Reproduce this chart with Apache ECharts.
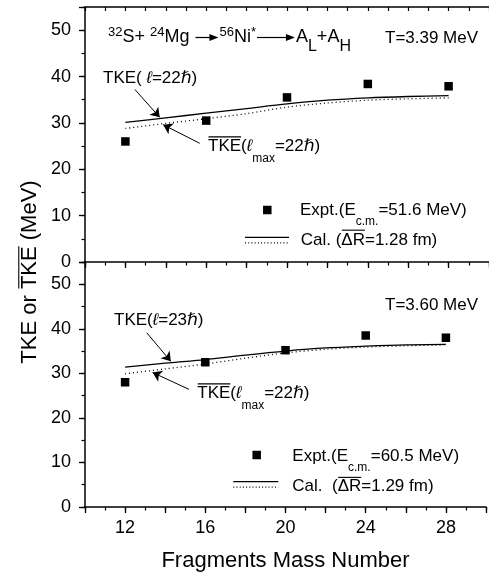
<!DOCTYPE html>
<html>
<head>
<meta charset="utf-8">
<script src="https://cdn.jsdelivr.net/npm/echarts@6/dist/echarts.min.js"></script>
<style>
	html, body { margin: 0; padding: 0; background: #fff; }
	#chart { width: 489px; height: 574px; }
</style>
</head>
<body>
<div id="chart"></div>
<script>
const FONT = '"Liberation Sans", Arial, "DejaVu Sans", sans-serif';

/* Experimental points (both panels share the mass numbers) */
const massNumbers = [12, 16, 20, 24, 28];
const exptTop = [26.0, 30.5, 35.5, 38.4, 37.9];
const exptBottom = [28.0, 32.5, 35.2, 38.5, 38.0];

/* Calculated curves */
const calMass = [12, 14, 16, 18, 20, 22, 24, 26, 28];
const tkeTop = [30.1, 31.1, 32.1, 33.1, 34.1, 34.9, 35.4, 35.7, 35.9];
const tkeBarTop = [28.8, 29.9, 30.9, 32.0, 33.4, 34.3, 34.9, 35.2, 35.4];
const tkeBottom = [31.4, 32.3, 33.1, 34.1, 35.0, 35.7, 36.1, 36.4, 36.5];
const tkeBarBottom = [29.9, 31.0, 32.1, 33.4, 34.6, 35.4, 35.9, 36.2, 36.4];

/* Annotation arrows, [from, to] in data units */
const arrowTkeTop = [[12.47, 37.2], [13.7, 31.2]];
const arrowBarTop = [[15.68, 25.6], [13.87, 29.6]];
const arrowTkeBottom = [[13.08, 39.1], [14.28, 32.7]];
const arrowBarBottom = [[15.19, 26.4], [13.37, 30.2]];

/* Tick labels */
const xLabels = [12, 16, 20, 24, 28];
const yLabels = [0, 10, 20, 30, 40, 50];

const toPairs = (xs, ys) => xs.map((x, i) => [x, ys[i]]);

/*
 * Text runs with sub/superscripts and overlines, laid out piece by piece
 */
const measureCtx = document.createElement('canvas').getContext('2d');
function measure(text, size, italic) {
	measureCtx.font = (italic ? 'italic ' : '') + size + 'px ' + FONT;
	return measureCtx.measureText(text).width;
}

function runWidth(parts) {
	let w = 0;
	parts.forEach(p => { w += p.arrow ? p.arrow : measure(p.t, p.size || 17, p.it); });
	return w;
}

function textRun(x, cy, parts) {
	const out = [];
	let cx = x;
	parts.forEach(function (p) {
		if (p.arrow) {
			out.push({
				type: 'line',
				shape: { x1: cx + 1, y1: cy, x2: cx + p.arrow - 8, y2: cy },
				style: { stroke: '#000', lineWidth: 1.2 },
			});
			out.push({
				type: 'polygon',
				shape: { points: [[cx + p.arrow - 10, cy - 3.5], [cx + p.arrow - 1, cy], [cx + p.arrow - 10, cy + 3.5]] },
				style: { fill: '#000' },
			});
			cx += p.arrow;
			return;
		}
		const size = p.size || 17;
		const w = measure(p.t, size, p.it);
		out.push({
			type: 'text',
			x: cx,
			y: cy + (p.dy || 0),
			style: {
				text: p.t,
				fontSize: size,
				fontFamily: FONT,
				fontStyle: p.it ? 'italic' : 'normal',
				fill: '#000',
				align: 'left',
				verticalAlign: 'middle',
				textAlign: 'left',
				textVerticalAlign: 'middle',
			},
		});
		if (p.over) {
			const oy = cy - (size * 0.36 + (p.overGap || 3.3));
			out.push({
				type: 'line',
				shape: { x1: cx + 0.5, y1: oy, x2: cx + w, y2: oy },
				style: { stroke: '#000', lineWidth: 1.1 },
			});
		}
		cx += w;
	});
	return out;
}

const sup = (t, size) => ({ t: t, size: size || 12, dy: -5 });
const sub = (t, dy, size) => ({ t: t, size: size || 12, dy: dy || 10.5 });
const big = (t) => ({ t: t, size: 18 });

function tkeBarParts(l) {
	return [
		{ t: 'TKE', over: true },
		{ t: '(' },
		{ t: '\u2113', it: true },
		sub('max', 12.5),
		{ t: '=' + l },
		{ t: '\u210F', it: true },
		{ t: ')' },
	];
}

function legendSample(sq, lineX, lineY) {
	return [
		{ type: 'rect', shape: { x: sq[0] - 4.25, y: sq[1] - 4.25, width: 8.5, height: 8.5 }, style: { fill: '#000' } },
		{ type: 'line', shape: { x1: lineX[0], y1: lineY, x2: lineX[1], y2: lineY }, style: { stroke: '#000', lineWidth: 1.2 } },
		{ type: 'line', shape: { x1: lineX[0], y1: lineY + 5.5, x2: lineX[1], y2: lineY + 5.5 }, style: { stroke: '#000', lineWidth: 1.2, lineDash: [1, 2.2] } },
	];
}

const yTitleParts = [{ t: 'TKE or ', size: 22 }, { t: 'TKE', size: 22, over: true }, { t: ' (MeV)', size: 22 }];

const graphics = [].concat(
	/* top panel */
	textRun(108, 37.5, [
		sup('32', 13), big('S+ '), sup('24', 13), big('Mg '), { arrow: 25 },
		sup('56', 13), big('Ni'), sup('*', 13), { arrow: 40 },
		big('A'), sub('L', 9.5, 16), big('+A'), sub('H', 9.5, 16),
	]),
	textRun(385, 38.3, [{ t: 'T=3.39 MeV' }]),
	textRun(103, 78.5, [{ t: 'TKE( ' }, { t: '\u2113', it: true }, { t: '=22' }, { t: '\u210F', it: true }, { t: ')' }]),
	textRun(208, 146.3, tkeBarParts(22)),
	legendSample([267.3, 210], [245, 289], 237.3),
	textRun(300, 210.7, [{ t: 'Expt.(E' }, sub('c.m.', 10.8), { t: '=51.6 MeV)' }]),
	textRun(300.7, 240.5, [{ t: 'Cal. (' }, { t: '\u0394R', over: true, overGap: 4.2 }, { t: '=1.28 fm)' }]),
	/* bottom panel */
	textRun(385, 305.5, [{ t: 'T=3.60 MeV' }]),
	textRun(114, 320, [{ t: 'TKE(' }, { t: '\u2113', it: true }, { t: '=23' }, { t: '\u210F', it: true }, { t: ')' }]),
	textRun(197.3, 393.3, tkeBarParts(22)),
	legendSample([256.7, 455], [233.3, 278.3], 481.7),
	textRun(292.3, 456.7, [{ t: 'Expt.(E' }, sub('c.m.', 10.8), { t: '=60.5 MeV)' }]),
	textRun(292.3, 486, [{ t: 'Cal.  (' }, { t: '\u0394R', over: true, overGap: 2.5 }, { t: '=1.29 fm)' }]),
	/* y axis title, rotated */
	[{
		type: 'group',
		x: 30,
		y: 272,
		rotation: Math.PI / 2,
		children: textRun(-runWidth(yTitleParts) / 2, 0, yTitleParts),
	}]
);

/* Axes */
const blackLine = { color: '#000', width: 1.5 };

function xMajor(gridIndex, showLabels) {
	return {
		type: 'value', gridIndex: gridIndex, position: 'bottom',
		min: 10, max: 30, interval: 2,
		name: showLabels ? 'Fragments Mass Number' : '',
		nameLocation: 'middle',
		nameGap: 43,
		nameTextStyle: { fontSize: 22, fontFamily: FONT, color: '#000' },
		axisLine: { show: true, onZero: false, lineStyle: blackLine },
		axisTick: { show: true, inside: false, length: 6, lineStyle: { color: '#000', width: 1.3 } },
		axisLabel: {
			show: showLabels, margin: 12, fontSize: 18, fontFamily: FONT, color: '#000',
			formatter: (v) => (xLabels.indexOf(v) >= 0 ? String(v) : ''),
		},
		splitLine: { show: false },
	};
}

function xMinor(gridIndex) {
	return {
		type: 'value', gridIndex: gridIndex, position: 'bottom',
		min: 10, max: 30, interval: 1,
		axisLine: { show: false, onZero: false },
		axisTick: { show: true, inside: false, length: 3.5, lineStyle: { color: '#000', width: 1.2 } },
		axisLabel: { show: false },
		splitLine: { show: false },
	};
}

function xTop(gridIndex) {
	return {
		type: 'value', gridIndex: gridIndex, position: 'top',
		min: 10, max: 30, interval: 1,
		axisLine: { show: true, onZero: false, lineStyle: blackLine },
		axisTick: { show: true, inside: true, length: 4, lineStyle: { color: '#000', width: 1.2 } },
		axisLabel: { show: false },
		splitLine: { show: false },
	};
}

function yMajor(gridIndex) {
	return {
		type: 'value', gridIndex: gridIndex, position: 'left',
		min: 0, max: 55, interval: 10,
		axisLine: { show: true, onZero: false, lineStyle: blackLine },
		axisTick: { show: true, inside: false, length: 6, lineStyle: { color: '#000', width: 1.3 } },
		axisLabel: {
			margin: 14, fontSize: 18, fontFamily: FONT, color: '#000',
			formatter: (v) => (yLabels.indexOf(v) >= 0 ? String(v) : ''),
		},
		splitLine: { show: false },
	};
}

function yMinor(gridIndex) {
	return {
		type: 'value', gridIndex: gridIndex, position: 'left',
		min: 0, max: 55, interval: 5,
		axisLine: { show: false, onZero: false },
		axisTick: { show: true, inside: false, length: 3.5, lineStyle: { color: '#000', width: 1.2 } },
		axisLabel: { show: false },
		splitLine: { show: false },
	};
}

/* Series */
function exptSeries(xi, yi, values) {
	return {
		type: 'scatter', xAxisIndex: xi, yAxisIndex: yi,
		data: toPairs(massNumbers, values),
		symbol: 'rect', symbolSize: 8.5,
		itemStyle: { color: '#000', opacity: 1 },
		emphasis: { disabled: true },
		z: 5,
	};
}

function arrowMarkLine(arrow) {
	return {
		silent: true,
		animation: false,
		symbol: ['none', 'arrow'],
		symbolSize: 9,
		label: { show: false },
		emphasis: { disabled: true },
		lineStyle: { color: '#000', width: 1, type: 'solid', opacity: 1 },
		itemStyle: { color: '#000' },
		data: [[{ coord: arrow[0] }, { coord: arrow[1] }]],
	};
}

function calSeries(xi, yi, values, dotted, arrow) {
	return {
		type: 'line', xAxisIndex: xi, yAxisIndex: yi,
		data: toPairs(calMass, values),
		smooth: 0.3,
		showSymbol: false,
		lineStyle: dotted
			? { color: '#000', width: 1.3, type: [1, 3] }
			: { color: '#000', width: 1.3, type: 'solid' },
		itemStyle: { color: '#000' },
		markLine: arrowMarkLine(arrow),
		z: 3,
	};
}

const option = {
	animation: false,
	backgroundColor: '#fff',
	grid: [
		{ left: 85, top: 7, width: 405, height: 255 },
		{ left: 85, top: 262, width: 405, height: 245 },
	],
	xAxis: [
		xMajor(0, false), xMinor(0), xTop(0),
		xMajor(1, true), xMinor(1),
	],
	yAxis: [
		yMajor(0), yMinor(0),
		yMajor(1), yMinor(1),
	],
	series: [
		calSeries(0, 0, tkeTop, false, arrowTkeTop),
		calSeries(0, 0, tkeBarTop, true, arrowBarTop),
		exptSeries(0, 0, exptTop),
		calSeries(3, 2, tkeBottom, false, arrowTkeBottom),
		calSeries(3, 2, tkeBarBottom, true, arrowBarBottom),
		exptSeries(3, 2, exptBottom),
	],
	graphic: graphics,
};

const myChart = echarts.init(document.getElementById('chart'));
myChart.setOption(option);
</script>
</body>
</html>
